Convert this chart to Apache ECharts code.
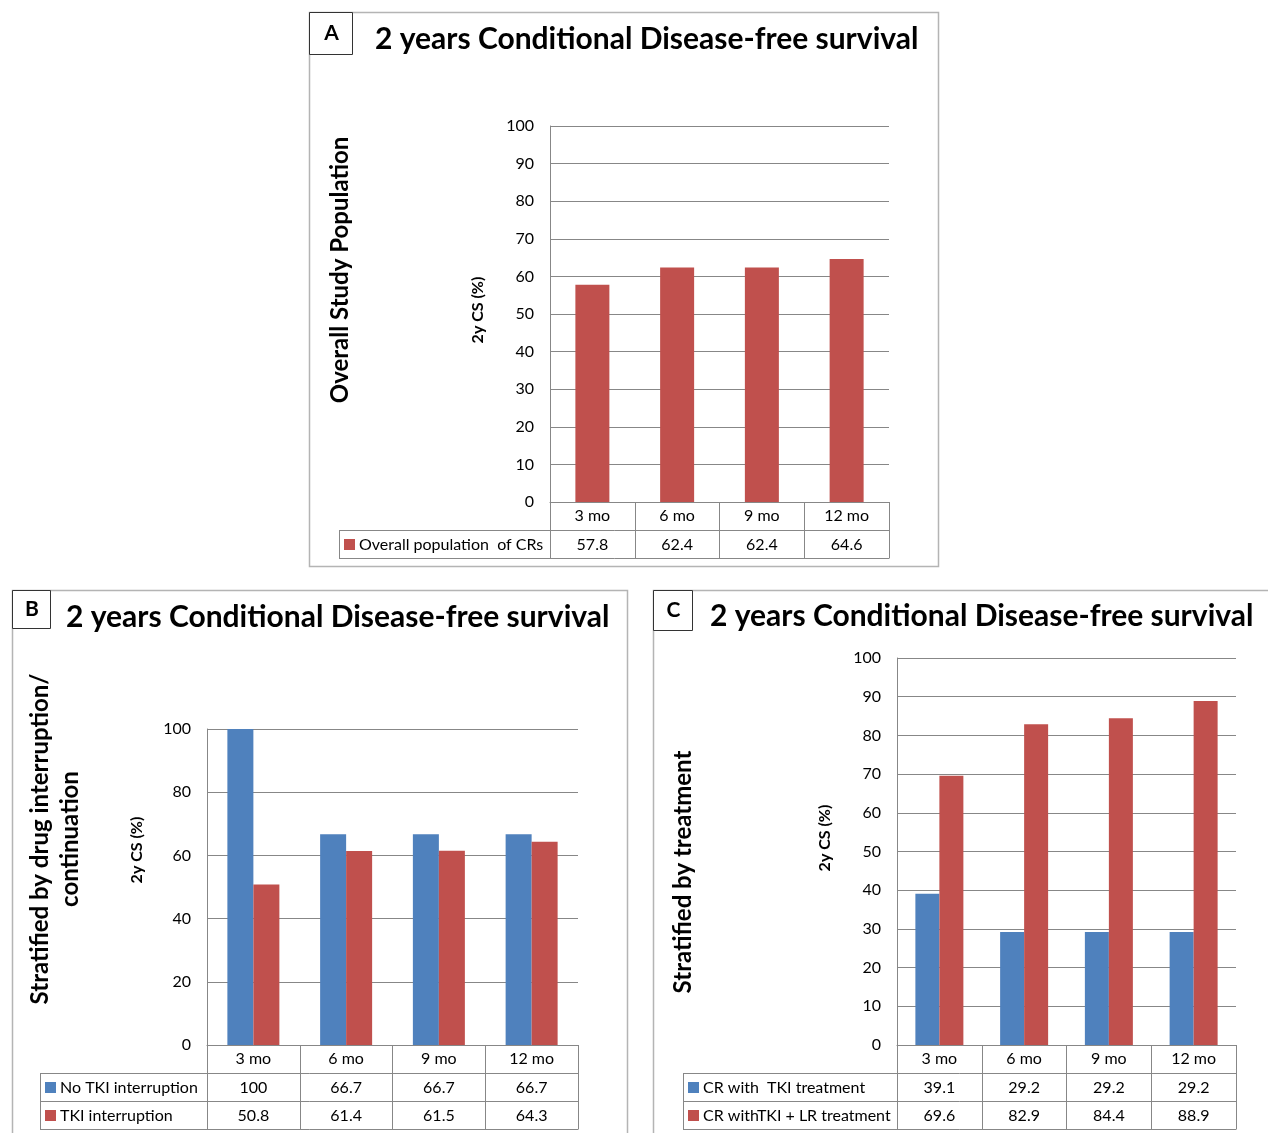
<!DOCTYPE html>
<html>
<head>
<meta charset="utf-8">
<script src="https://cdn.jsdelivr.net/npm/echarts@6/dist/echarts.min.js"></script>
<style>
  html, body { margin: 0; padding: 0; background: #ffffff; }
  #chart { width: 1268px; height: 1133px; }
</style>
</head>
<body>
<div id="chart"></div>
<script>
// ---- data -------------------------------------------------------------
const months = ['3 mo', '6 mo', '9 mo', '12 mo'];
const overallCR = [57.8, 62.4, 62.4, 64.6];
const noTkiInterruption = [100, 66.7, 66.7, 66.7];
const tkiInterruption = [50.8, 61.4, 61.5, 64.3];
const crWithTki = [39.1, 29.2, 29.2, 29.2];
const crWithTkiLr = [69.6, 82.9, 84.4, 88.9];

const titleText = '2 years Conditional Disease-free survival';
const csAxisName = '2y CS (%)';

// ---- styling ----------------------------------------------------------
const BLUE = '#4F81BD';
const RED = '#C0504D';
const GRID_GRAY = '#878787';
const FRAME_GRAY = '#b4b4b4';
const FONT = 'Lato, "Open Sans", "Liberation Sans", sans-serif';
const ROW_H = 28;
const SMALL = 16;

const panels = [
  {
    letter: 'A', frame: [309, 12, 629, 554], tag: [309, 12, 43, 42], titleX: 375, titleY: 39,
    grid: { left: 550, top: 126, width: 339, height: 376 }, interval: 10, legendLeft: 339,
    barWidth: 34, barGap: '0%',
    series: [{ name: 'Overall population  of CRs', data: overallCR, color: RED }],
    yTitle: ['Overall Study Population'], yTitleX: [340], yTitleY: 270, csX: 478, csY: 310
  },
  {
    letter: 'B', frame: [12, 590, 615, 560], tag: [12, 590, 38, 38], titleX: 66, titleY: 617,
    grid: { left: 207, top: 729, width: 371, height: 316 }, interval: 20, legendLeft: 40,
    barWidth: 26, barGap: '0%',
    series: [
      { name: 'No TKI interruption', data: noTkiInterruption, color: BLUE },
      { name: 'TKI interruption', data: tkiInterruption, color: RED }
    ],
    yTitle: ['Stratified by drug interruption/', 'continuation'], yTitleX: [40, 70], yTitleY: 839,
    csX: 137, csY: 850
  },
  {
    letter: 'C', frame: [653, 590, 640, 560], tag: [653, 590, 39, 40], titleX: 710, titleY: 616,
    grid: { left: 897, top: 658, width: 339, height: 387 }, interval: 10, legendLeft: 683,
    barWidth: 24, barGap: '0%',
    series: [
      { name: 'CR with  TKI treatment', data: crWithTki, color: BLUE },
      { name: 'CR withTKI + LR treatment', data: crWithTkiLr, color: RED }
    ],
    yTitle: ['Stratified by treatment'], yTitleX: [683], yTitleY: 872, csX: 825, csY: 838
  }
];

// ---- helpers ----------------------------------------------------------
function px(v) { return Math.round(v) + 0.5; }

function hLine(x1, x2, y, color) {
  return { type: 'line', silent: true, shape: { x1: x1, y1: px(y), x2: x2, y2: px(y) },
           style: { stroke: color, lineWidth: 1 } };
}
function vLine(x, y1, y2, color) {
  return { type: 'line', silent: true, shape: { x1: px(x), y1: y1, x2: px(x), y2: y2 },
           style: { stroke: color, lineWidth: 1 } };
}
function label(text, x, y, opts) {
  opts = opts || {};
  return {
    type: 'text', silent: true, x: x, y: y, rotation: opts.rotation || 0,
    style: {
      text: text, x: 0, y: 0,
      fill: opts.color || '#000',
      font: (opts.weight || 'normal') + ' ' + (opts.size || SMALL) + 'px ' + FONT,
      textAlign: opts.align || 'center', textVerticalAlign: 'middle',
      align: opts.align || 'center', verticalAlign: 'middle'
    }
  };
}

const grids = [], xAxes = [], yAxes = [], series = [], graphics = [];

panels.forEach(function (p, gi) {
  const g = p.grid;
  const right = g.left + g.width;
  const bottom = g.top + g.height;
  const nRows = p.series.length;

  grids.push({ left: g.left, top: g.top, width: g.width, height: g.height, containLabel: false });

  xAxes.push({
    gridIndex: gi, type: 'category', data: months,
    axisLine: { show: true, lineStyle: { color: GRID_GRAY, width: 1 } },
    axisTick: { show: true, interval: 0, alignWithLabel: false, length: ROW_H * (nRows + 1),
                lineStyle: { color: GRID_GRAY, width: 1 } },
    axisLabel: { show: true, interval: 0, margin: 6, color: '#000', fontSize: SMALL, fontFamily: FONT },
    splitLine: { show: false }
  });

  yAxes.push({
    gridIndex: gi, type: 'value', min: 0, max: 100, interval: p.interval,
    axisLine: { show: true, lineStyle: { color: GRID_GRAY, width: 1 } },
    axisTick: { show: false },
    axisLabel: { margin: 16, color: '#000', fontSize: SMALL, fontFamily: FONT },
    splitLine: { show: true, lineStyle: { color: GRID_GRAY, width: 1 } }
  });

  p.series.forEach(function (s) {
    series.push({
      type: 'bar', name: s.name, xAxisIndex: gi, yAxisIndex: gi, data: s.data,
      barWidth: p.barWidth, barGap: p.barGap,
      itemStyle: { color: s.color }, animation: false
    });
  });

  // panel frame, letter tag and heading
  graphics.push({ type: 'rect', silent: true,
    shape: { x: px(p.frame[0]), y: px(p.frame[1]), width: p.frame[2], height: p.frame[3] },
    style: { fill: 'none', stroke: FRAME_GRAY, lineWidth: 1.5 } });
  graphics.push({ type: 'rect', silent: true,
    shape: { x: px(p.tag[0]), y: px(p.tag[1]), width: p.tag[2], height: p.tag[3] },
    style: { fill: '#fff', stroke: '#333', lineWidth: 1 } });
  graphics.push(label(p.letter, p.tag[0] + p.tag[2] / 2 + 1, p.tag[1] + p.tag[3] / 2, { size: 21, weight: 'bold' }));
  graphics.push(label(titleText, p.titleX, p.titleY, { size: 30, weight: 'bold', align: 'left' }));

  // rotated axis titles
  p.yTitle.forEach(function (t, i) {
    graphics.push(label(t, p.yTitleX[i], p.yTitleY, { size: 24, weight: 'bold', rotation: Math.PI / 2 }));
  });
  graphics.push(label(csAxisName, p.csX, p.csY, { size: 16, weight: 'bold', rotation: Math.PI / 2 }));

  // data table under the axis
  const tableBottom = bottom + ROW_H * (nRows + 1);
  for (let k = 1; k <= nRows + 1; k++) {
    graphics.push(hLine(p.legendLeft, right + 0.5, bottom + ROW_H * k, GRID_GRAY));
  }
  graphics.push(vLine(p.legendLeft, px(bottom + ROW_H), px(tableBottom), GRID_GRAY));

  const colW = g.width / months.length;
  p.series.forEach(function (s, r) {
    const cy = bottom + ROW_H * (r + 1) + ROW_H / 2 + 0.5;
    graphics.push({ type: 'rect', silent: true,
      shape: { x: p.legendLeft + 5, y: Math.round(cy - 5.5), width: 11, height: 11 },
      style: { fill: s.color } });
    graphics.push(label(s.name, p.legendLeft + 20, cy, { size: SMALL, align: 'left' }));
    s.data.forEach(function (v, c) {
      graphics.push(label(String(v), g.left + colW * (c + 0.5), cy, { size: SMALL }));
    });
  });
});

const chart = echarts.init(document.getElementById('chart'), null, { renderer: 'canvas' });
chart.setOption({
  backgroundColor: '#ffffff',
  animation: false,
  grid: grids,
  xAxis: xAxes,
  yAxis: yAxes,
  series: series,
  graphic: { elements: graphics }
});
</script>
</body>
</html>
